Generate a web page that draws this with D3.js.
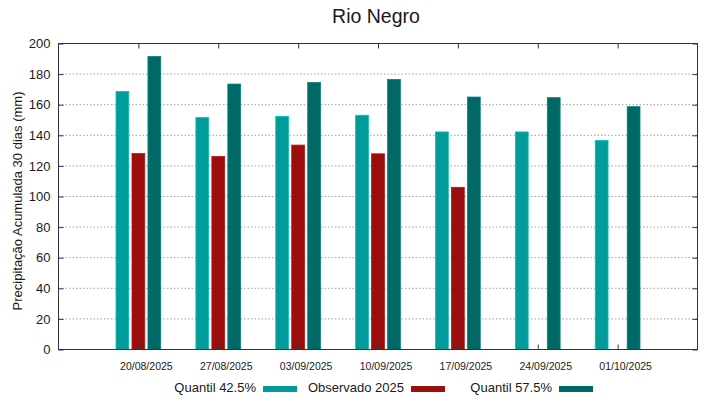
<!DOCTYPE html>
<html>
<head>
<meta charset="utf-8">
<script src="https://cdn.jsdelivr.net/npm/d3@7"></script>
<style>
    body { margin: 0; background: #fff; }
    text { font-family: "Liberation Sans", Arial, sans-serif; fill: #1a1a1a; }
</style>
</head>
<body>
<div id="chart"></div>
<script>
var dates = ["20/08/2025", "27/08/2025", "03/09/2025", "10/09/2025", "17/09/2025", "24/09/2025", "01/10/2025"];
var quantil425 = [168.7, 151.6, 152.4, 153.1, 142.2, 142.2, 136.6];
var observado = [128.1, 126.2, 133.6, 127.9, 106.0, null, null];
var quantil575 = [191.5, 173.5, 174.5, 176.5, 165.0, 164.6, 158.7];
var yTicks = [0, 20, 40, 60, 80, 100, 120, 140, 160, 180, 200];

var series = [
    { name: "Quantil 42.5%", values: quantil425, color: "#009b9a", offset: -0.2 },
    { name: "Observado 2025", values: observado, color: "#9a0e0e", offset: 0 },
    { name: "Quantil 57.5%", values: quantil575, color: "#016965", offset: 0.2 }
];

var W = 719, H = 399;
var margin = { top: 43.5, right: 21.5, bottom: 49.5, left: 58.5 },
    width = W - margin.left - margin.right,
    height = H - margin.top - margin.bottom;

var svg = d3.select("#chart").append("svg")
    .attr("width", W)
    .attr("height", H);

var x = d3.scaleLinear()
    .domain([-1, dates.length])
    .range([0, width]);

var y = d3.scaleLinear()
    .domain([0, 200])
    .range([height, 0]);

var barW = 0.16; // in group units

var g = svg.append("g")
    .attr("transform", "translate(" + margin.left + "," + margin.top + ")");

// dotted grid
g.selectAll(".grid")
    .data(yTicks.filter(function(t) { return t > 0 && t < 200; }))
    .enter().append("line")
    .attr("class", "grid")
    .attr("x1", 0)
    .attr("x2", width)
    .attr("y1", function(d) { return y(d); })
    .attr("y2", function(d) { return y(d); })
    .attr("stroke", "#a0a0a0")
    .attr("stroke-width", 1)
    .attr("stroke-dasharray", "1.5,2");

// bars
series.forEach(function(s) {
    g.append("g").selectAll(null)
        .data(s.values.map(function(v, i) { return { i: i, v: v }; }).filter(function(d) { return d.v != null; }))
        .enter().append("rect")
        .attr("x", function(d) { return x(d.i + s.offset - barW / 2); })
        .attr("width", x(barW) - x(0))
        .attr("y", function(d) { return y(d.v); })
        .attr("height", function(d) { return height - y(d.v); })
        .attr("fill", s.color)
        .attr("stroke", d3.color(s.color).brighter(0.6))
        .attr("stroke-width", 0.8);
});

// axes, ticks inward and mirrored
var yAxis = d3.axisLeft(y).tickValues(yTicks).tickSize(-5).tickPadding(8);
var yAxisR = d3.axisRight(y).tickValues(yTicks).tickSize(-5).tickFormat("");
var xAxis = d3.axisBottom(x).tickValues(d3.range(dates.length))
    .tickSize(-5).tickPadding(13)
    .tickFormat(function(i) { return dates[i]; });
var xAxisT = d3.axisTop(x).tickValues(d3.range(dates.length)).tickSize(-5).tickFormat("");

g.append("g").attr("class", "axis").call(yAxis)
    .selectAll("text").style("font-size", "13px");
g.append("g").attr("class", "axis").attr("transform", "translate(" + width + ",0)").call(yAxisR);
g.append("g").attr("class", "axis").attr("transform", "translate(0," + height + ")").call(xAxis)
    .selectAll("text").style("font-size", "10.5px").attr("dx", 7.5);
g.append("g").attr("class", "axis").call(xAxisT);

g.selectAll(".axis .domain").remove();
g.selectAll(".axis line").attr("stroke", "#333");
g.selectAll(".axis text").attr("fill", "#1a1a1a").style("font-family", "Liberation Sans, Arial, sans-serif");

g.append("rect")
    .attr("width", width)
    .attr("height", height)
    .attr("fill", "none")
    .attr("stroke", "#333")
    .attr("stroke-width", 1);

// title
svg.append("text")
    .attr("x", 376)
    .attr("y", 23)
    .attr("text-anchor", "middle")
    .style("font-size", "19.5px")
    .text("Rio Negro");

// y label
svg.append("text")
    .attr("transform", "translate(21.5,201) rotate(-90)")
    .attr("text-anchor", "middle")
    .style("font-size", "13px")
    .text("Precipitação Acumulada 30 dias (mm)");

// legend
var legend = svg.append("g").attr("transform", "translate(263,389)");
var item = legend.selectAll(".key")
    .data(series)
    .enter().append("g")
    .attr("transform", function(d, i) { return "translate(" + (i * 148) + ",0)"; });
item.append("rect")
    .attr("x", 0)
    .attr("y", -3)
    .attr("width", 34)
    .attr("height", 6)
    .attr("fill", function(d) { return d.color; });
item.append("text")
    .attr("x", -7)
    .attr("y", -2)
    .attr("dy", "0.35em")
    .attr("text-anchor", "end")
    .style("font-size", "13px")
    .text(function(d) { return d.name; });
</script>
</body>
</html>
